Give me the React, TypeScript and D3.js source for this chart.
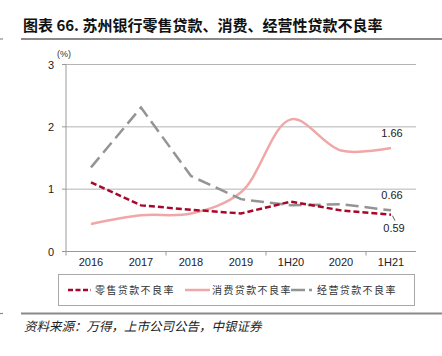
import React from "react";
import * as d3 from "d3";

const categories = ["2016", "2017", "2018", "2019", "1H20", "2020", "1H21"];
const retailNpl = [1.11, 0.74, 0.67, 0.61, 0.8, 0.66, 0.59];
const consumerNpl = [0.44, 0.58, 0.61, 0.95, 2.12, 1.62, 1.66];
const businessNpl = [1.35, 2.31, 1.21, 0.84, 0.74, 0.76, 0.66];
const yTicks = [0, 1, 2, 3];
const seriesNames = ["零售贷款不良率", "消费贷款不良率", "经营贷款不良率"];
const title = "图表 66. 苏州银行零售贷款、消费、经营性贷款不良率";
const source = "资料来源：万得，上市公司公告，中银证券";

const W = 442;
const H = 356;
const left = 66;
const right = 416;
const top = 64.5;
const bottom = 251.5;

const RED = "#A8072B";
const PINK = "#F0A7A7";
const GREY = "#949494";

export default function App() {
  const x = d3.scaleBand<string>().domain(categories).range([left, right]).padding(0);
  const y = d3.scaleLinear().domain([0, 3]).range([bottom, top]);
  const cx = (c: string) => (x(c) as number) + x.bandwidth() / 2;

  const smooth = d3
    .line<number>()
    .x((_, i) => cx(categories[i]))
    .y((d) => y(d))
    .curve(d3.curveCatmullRom.alpha(0.5));
  const straight = d3
    .line<number>()
    .x((_, i) => cx(categories[i]))
    .y((d) => y(d))
    .curve(d3.curveLinear);

  const tickBoundaries = categories.filter((_, i) => i % 2 === 0).map((c) => x(c) as number);
  const lastC = categories[categories.length - 1];
  const lastX = cx(lastC);

  const numFont = "'Liberation Sans', Arial, sans-serif";
  const cjkFont = "'Noto Sans CJK SC', sans-serif";

  return (
    <svg width={W} height={H} style={{ position: "absolute", left: 0, top: 0, background: "#fff" }}>
      {/* title */}
      <text x={23} y={31} fontFamily={cjkFont} fontWeight="bold" fontSize={15} fill="#111">
        {title}
      </text>
      <line x1={21} x2={442} y1={39} y2={39} stroke="#8a8a8a" strokeWidth={1.8} />
      <line x1={0} x2={3} y1={39} y2={39} stroke="#8a8a8a" strokeWidth={1.2} />

      {/* gridlines */}
      {yTicks.filter((t) => t > 0).map((t) => (
        <line key={t} x1={left} x2={right} y1={y(t)} y2={y(t)} stroke="#b4b4b4" strokeWidth={1} />
      ))}
      {/* axes */}
      <line x1={left} x2={left} y1={top} y2={bottom} stroke="#999" strokeWidth={1} />
      <line x1={left} x2={right} y1={bottom} y2={bottom} stroke="#999" strokeWidth={1} />
      {yTicks.map((t) => (
        <g key={t}>
          <line x1={left - 4} x2={left} y1={y(t)} y2={y(t)} stroke="#999" />
          <text x={54} y={y(t) + 4} textAnchor="end" fontFamily={numFont} fontSize={11} fill="#222">
            {t}
          </text>
        </g>
      ))}
      {tickBoundaries.map((bx, i) => (
        <line key={i} x1={bx} x2={bx} y1={bottom} y2={bottom + 4} stroke="#999" />
      ))}
      {categories.map((c) => (
        <text key={c} x={cx(c)} y={266} textAnchor="middle" fontFamily={numFont} fontSize={11} fill="#222">
          {c}
        </text>
      ))}
      <text x={57} y={57} fontFamily={numFont} fontSize={9} fill="#333">
        (%)
      </text>

      {/* series */}
      <path d={smooth(consumerNpl) || ""} fill="none" stroke={PINK} strokeWidth={2.5} />
      <path d={straight(businessNpl) || ""} fill="none" stroke={GREY} strokeWidth={2.5} strokeDasharray="13,6" />
      <path d={straight(retailNpl) || ""} fill="none" stroke={RED} strokeWidth={2.5} strokeDasharray="6,3" />

      {/* annotations */}
      <text x={392} y={137} textAnchor="middle" fontFamily={numFont} fontSize={11} fill="#222">
        {consumerNpl[6].toFixed(2)}
      </text>
      <text x={392} y={199} textAnchor="middle" fontFamily={numFont} fontSize={11} fill="#222">
        {businessNpl[6].toFixed(2)}
      </text>
      <line x1={lastX + 1.5} y1={y(retailNpl[6]) + 1} x2={lastX + 4} y2={y(retailNpl[6]) + 6} stroke="#333" strokeWidth={0.8} />
      <text x={394} y={232} textAnchor="middle" fontFamily={numFont} fontSize={11} fill="#222">
        {retailNpl[6].toFixed(2)}
      </text>

      {/* legend */}
      <rect x={58.5} y={274.5} width={356} height={31} fill="none" stroke="#a8a8a8" strokeWidth={1} />
      <line x1={68} x2={91} y1={290} y2={290} stroke={RED} strokeWidth={2.5} strokeDasharray="5,2.5" />
      <text x={95} y={293.5} fontFamily={cjkFont} fontSize={10} letterSpacing={1.4} fill="#333">
        {seriesNames[0]}
      </text>
      <line x1={185} x2={210} y1={290} y2={290} stroke={PINK} strokeWidth={2.5} />
      <text x={212} y={293.5} fontFamily={cjkFont} fontSize={10} letterSpacing={1.4} fill="#333">
        {seriesNames[1]}
      </text>
      <line x1={291} x2={312} y1={290} y2={290} stroke={GREY} strokeWidth={2.5} strokeDasharray="14,4" />
      <text x={317} y={293.5} fontFamily={cjkFont} fontSize={10} letterSpacing={1.4} fill="#333">
        {seriesNames[2]}
      </text>

      {/* footer */}
      <line x1={21} x2={442} y1={313.5} y2={313.5} stroke="#8a8a8a" strokeWidth={1.8} />
      <line x1={0} x2={3} y1={313.5} y2={313.5} stroke="#8a8a8a" strokeWidth={1.2} />
      <text x={24} y={331} fontFamily={cjkFont} fontStyle="italic" fontSize={12.5} fill="#222">
        {source}
      </text>
    </svg>
  );
}
